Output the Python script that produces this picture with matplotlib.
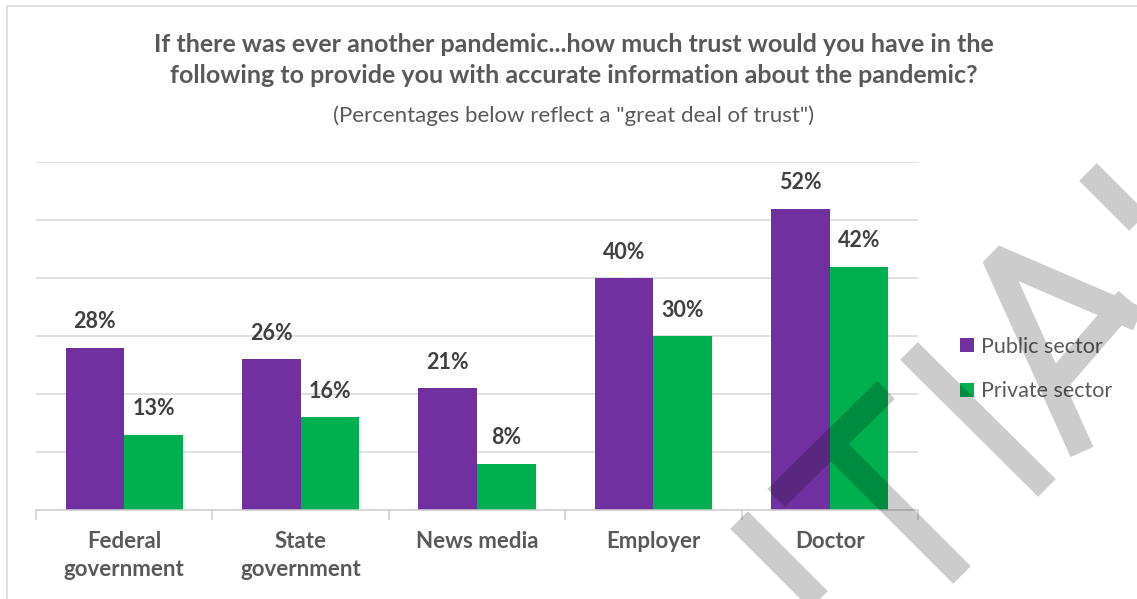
import matplotlib
matplotlib.use("Agg")
import matplotlib.pyplot as plt
import numpy as np
from matplotlib.patches import Rectangle, PathPatch
from matplotlib.path import Path
from matplotlib.transforms import IdentityTransform

plt.rcParams['font.family'] = ['Lato', 'DejaVu Sans']

categories = ['Federal\ngovernment', 'State\ngovernment', 'News media', 'Employer', 'Doctor']
public = [28, 26, 21, 40, 52]
private = [13, 16, 8, 30, 42]
series_names = ['Public sector', 'Private sector']
colors = ['#7030A0', '#00B050']

W, H = 1137, 599
fig = plt.figure(figsize=(W / 100, H / 100), dpi=100)
ax = fig.add_axes([36 / W, 1 - 510 / H, (918 - 36) / W, (510 - 162.3) / H])

x = np.arange(len(categories))
w = 0.332
b1 = ax.bar(x - w / 2, public, w, color=colors[0], label=series_names[0], zorder=2)
b2 = ax.bar(x + w / 2, private, w, color=colors[1], label=series_names[1], zorder=2)
for bars in (b1, b2):
    ax.bar_label(bars, labels=[f'{v:g}%' for v in bars.datavalues], padding=11,
                 fontsize=15.5, fontweight='bold', color='#404040')

ax.set_xlim(-0.5, len(categories) - 0.5)
ax.set_ylim(0, 60)
ax.set_yticks(range(0, 70, 10))
ax.tick_params(axis='y', length=0, labelleft=False)
ax.grid(axis='y', color='#d9d9d9', lw=1.1, zorder=0)
ax.set_axisbelow(True)
for s in ['left', 'right', 'top']:
    ax.spines[s].set_visible(False)
ax.spines['bottom'].set_color('#d0d0d0')
ax.spines['bottom'].set_linewidth(1.1)

ax.set_xticks(x)
ax.set_xticklabels(categories, fontsize=16, fontweight='bold', color='#595959', linespacing=1.45)
ax.tick_params(axis='x', which='major', length=0, pad=15)
ax.set_xticks(np.arange(len(categories) + 1) - 0.5, minor=True)
ax.tick_params(axis='x', which='minor', length=7, color='#d0d0d0', width=1.1)

fig.text(574 / W, 1 - 60 / H,
         'If there was ever another pandemic...how much trust would you have in the\n'
         'following to provide you with accurate information about the pandemic?',
         ha='center', va='center', fontsize=18, fontweight='bold', color='#595959',
         linespacing=1.4)
fig.text(574 / W, 1 - 116 / H, '(Percentages below reflect a "great deal of trust")',
         ha='center', va='center', fontsize=16, color='#595959')

fig.legend(loc='center left', bbox_to_anchor=(941 / W, 1 - 369 / H), frameon=False,
           fontsize=15.5, handlelength=0.64, handleheight=0.64, handletextpad=0.3,
           labelspacing=1.15, labelcolor='#595959')

# chart border
fig.add_artist(Rectangle((6.5, -10), 1200, H - 5.5 + 10, transform=IdentityTransform(),
                         fill=False, edgecolor='#d9d9d9', lw=1.2))

# grey watermark strokes (image pixel coords)
strokes = [
    [(1088, 172), (1170, 254)],
    [(909, 351), (1047, 488)],
    [(1082, 452), (994, 257), (1180, 337)],
    [(1058, 380), (1128, 299)],
    [(886, 390), (776, 498)],
    [(831, 444), (962, 575)],
    [(739, 520), (830, 611)],
]
verts, codes = [], []
for st in strokes:
    for i, (px, py) in enumerate(st):
        verts.append((px, H - py))
        codes.append(Path.MOVETO if i == 0 else Path.LINETO)
fig.add_artist(PathPatch(Path(verts, codes), fill=False, edgecolor='black', alpha=0.2,
                         lw=18, capstyle='butt', joinstyle='bevel',
                         transform=IdentityTransform(), zorder=10))

fig.savefig('out.png', dpi=100)
